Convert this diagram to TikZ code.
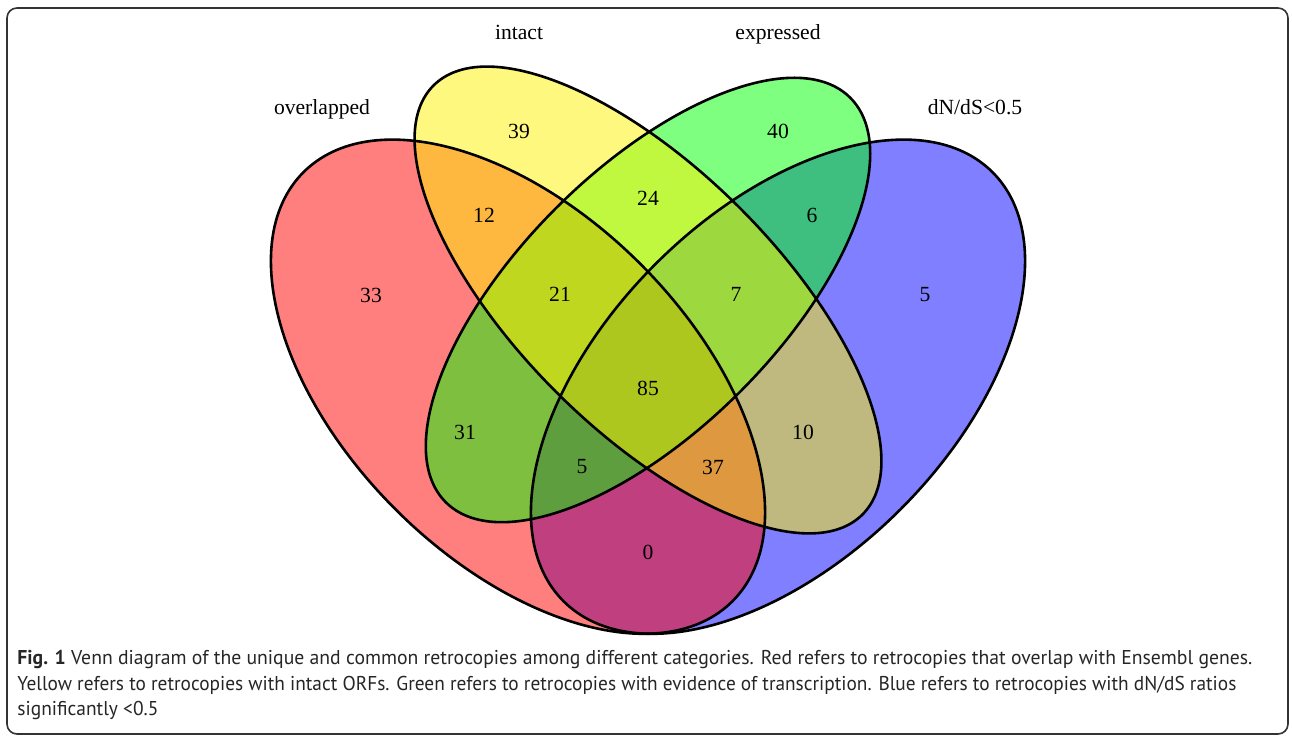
\documentclass[tikz,border=0pt]{standalone}
\usepackage{fontspec}
\usepackage{graphicx}
\setmainfont{Liberation Serif}
\newfontfamily\capfont{PT Sans}
\begin{document}
\begin{tikzpicture}[x=0.5pt,y=-0.5pt,
  setfill/.style={fill opacity=0.5},
  setline/.style={draw=black, line width=1.3pt},
  lbl/.style={font=\fontsize{10.8pt}{12pt}\selectfont, inner sep=0pt, anchor=base},
  num/.style={font=\fontsize{10.8pt}{12pt}\selectfont, inner sep=0pt},
  capline/.style={font=\capfont\fontsize{10pt}{12pt}\selectfont, color=black!85, inner sep=0pt, anchor=base west}]
\useasboundingbox (0,0) rectangle (1292,737);
\draw[line width=0.8pt, draw=black!80, rounded corners=5pt] (7,8) rectangle (1288,734);
% fills: blue, red, green, yellow
\fill[setfill, blue, rotate around={45:(778,386.7)}] (778,386.7) ellipse [x radius=151.67pt, y radius=86.67pt];
\fill[setfill, red, rotate around={135:(518,386.7)}] (518,386.7) ellipse [x radius=151.67pt, y radius=86.67pt];
\fill[setfill, green, rotate around={45:(648,300)}] (648,300) ellipse [x radius=143pt, y radius=65pt];
\fill[setfill, yellow, rotate around={135:(648,300)}] (648,300) ellipse [x radius=151.67pt, y radius=65pt];
% outlines
\draw[setline, rotate around={45:(778,386.7)}] (778,386.7) ellipse [x radius=151.67pt, y radius=86.67pt];
\draw[setline, rotate around={135:(518,386.7)}] (518,386.7) ellipse [x radius=151.67pt, y radius=86.67pt];
\draw[setline, rotate around={45:(648,300)}] (648,300) ellipse [x radius=143pt, y radius=65pt];
\draw[setline, rotate around={135:(648,300)}] (648,300) ellipse [x radius=151.67pt, y radius=65pt];
% category labels
\node[lbl] (lA) at (322,115) {overlapped};
\node[lbl] (lB) at (519,40) {intact};
\node[lbl] (lC) at (778,40) {expressed};
\node[lbl] (lD) at (975,115) {dN/dS<0.5};
% region counts
\node[num] (n39) at (519,131) {39};
\node[num] (n40) at (778,131) {40};
\node[num] (n12) at (484,215) {12};
\node[num] (n24) at (648,198) {24};
\node[num] (n6) at (812,215) {6};
\node[num] (n33) at (371,295) {33};
\node[num] (n21) at (560,294) {21};
\node[num] (n7) at (736,294) {7};
\node[num] (n5a) at (925,295) {5};
\node[num] (n85) at (648,388) {85};
\node[num] (n31) at (465,432) {31};
\node[num] (n10) at (803,432) {10};
\node[num] (n5b) at (582,467) {5};
\node[num] (n37) at (713,467) {37};
\node[num] (n0) at (648,552) {0};
% caption
\node[capline] (c1) at (17,665) {\resizebox{617.5pt}{\height}{\textbf{Fig. 1} Venn diagram of the unique and common retrocopies among different categories. Red refers to retrocopies that overlap with Ensembl genes.}};
\node[capline] (c2) at (17,690) {\resizebox{609.5pt}{\height}{Yellow refers to retrocopies with intact ORFs. Green refers to retrocopies with evidence of transcription. Blue refers to retrocopies with dN/dS ratios}};
\node[capline] (c3) at (17,715) {\resizebox{70.5pt}{\height}{significantly <0.5}};
\end{tikzpicture}
\end{document}
